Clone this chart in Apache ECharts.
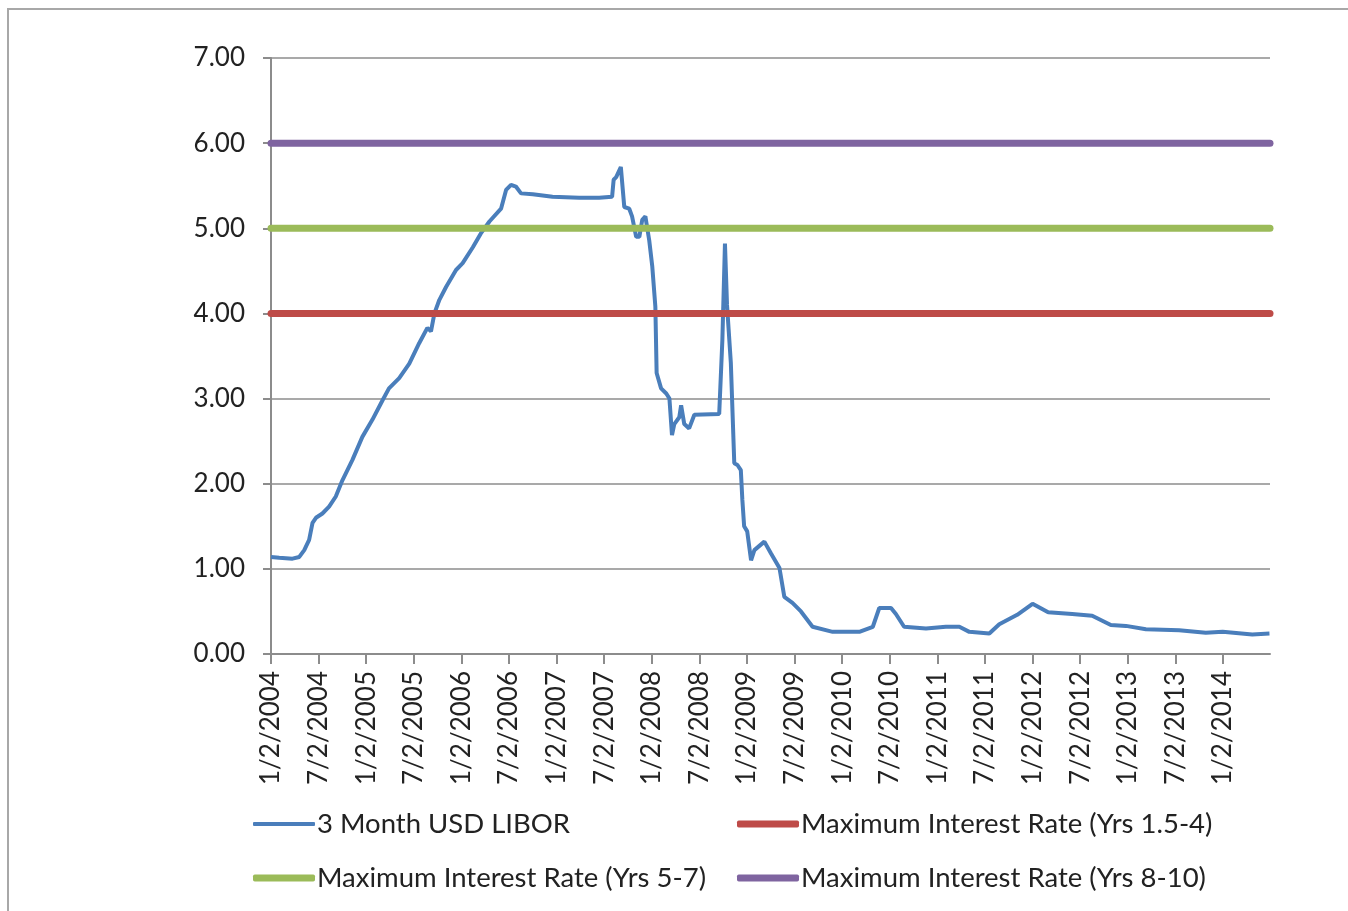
<!DOCTYPE html>
<html>
<head>
<meta charset="utf-8">
<title>3 Month USD LIBOR</title>
<script src="https://cdn.jsdelivr.net/npm/echarts@6/dist/echarts.min.js"></script>
<style>
    html, body { margin: 0; padding: 0; background: #fff; }
    #frame { position: absolute; left: 7px; top: 8px; width: 1400px; height: 960px;
             border-left: 2px solid #a8a8a8; border-top: 2px solid #a8a8a8; }
    #graph { position: absolute; left: 0; top: 0; width: 1348px; height: 911px; }
</style>
</head>
<body>
<div id="frame"></div>
<div id="graph"></div>
<script>
// 3 month USD LIBOR
var liborDates = [
    '2004-01-02','2004-02-03','2004-03-24','2004-04-19','2004-05-08','2004-05-27','2004-06-09','2004-06-22',
    '2004-07-17','2004-08-12','2004-09-07','2004-10-02','2004-11-10','2004-12-18','2005-01-26','2005-03-04',
    '2005-03-29','2005-05-07','2005-06-15','2005-07-23','2005-08-24','2005-09-07','2005-09-20','2005-10-09',
    '2005-11-04','2005-12-12','2006-01-07','2006-02-15','2006-03-16','2006-04-18','2006-06-02','2006-06-21',
    '2006-07-10','2006-07-29','2006-08-18','2006-10-02','2006-12-17','2007-03-28','2007-06-13','2007-08-02',
    '2007-08-08','2007-08-18','2007-09-05','2007-09-18','2007-10-07','2007-10-18','2007-11-03','2007-11-15',
    '2007-11-26','2007-12-08','2007-12-23','2008-01-04','2008-01-16','2008-01-21','2008-02-07','2008-02-26',
    '2008-03-09','2008-03-19','2008-03-28','2008-04-16','2008-04-23','2008-05-05','2008-05-24','2008-06-13',
    '2008-09-17','2008-09-29','2008-10-09','2008-10-17','2008-11-01','2008-11-14','2008-11-26','2008-12-09',
    '2008-12-15','2008-12-22','2009-01-03','2009-01-18','2009-01-31','2009-03-08','2009-04-03','2009-05-05',
    '2009-05-24','2009-06-24','2009-07-27','2009-09-10','2009-11-26','2010-03-07','2010-04-28','2010-05-23',
    '2010-07-07','2010-07-26','2010-08-27','2010-11-19','2011-02-04','2011-03-26','2011-05-03','2011-07-19',
    '2011-08-27','2011-11-04','2012-01-02','2012-03-01','2012-06-02','2012-08-18','2012-10-29','2012-12-26',
    '2013-03-11','2013-07-17','2013-10-28','2014-01-01','2014-04-23','2014-06-28'
];
var liborRates = [
    1.14,1.13,1.12,1.14,1.22,1.34,1.54,1.60,
    1.65,1.73,1.85,2.04,2.28,2.55,2.75,2.98,
    3.12,3.24,3.41,3.65,3.83,3.79,4.00,4.16,
    4.31,4.51,4.59,4.78,4.94,5.08,5.23,5.45,
    5.51,5.49,5.41,5.40,5.37,5.36,5.36,5.37,
    5.57,5.60,5.72,5.25,5.23,5.14,4.90,4.90,
    5.10,5.14,4.86,4.55,4.08,3.30,3.12,3.06,
    3.00,2.57,2.70,2.78,2.92,2.70,2.65,2.81,
    2.82,3.69,4.82,4.10,3.42,2.24,2.22,2.16,
    1.81,1.50,1.44,1.10,1.22,1.32,1.18,1.01,
    0.67,0.60,0.50,0.32,0.26,0.26,0.32,0.54,
    0.54,0.47,0.32,0.30,0.32,0.32,0.26,0.24,
    0.35,0.46,0.59,0.49,0.47,0.45,0.34,0.33,
    0.29,0.28,0.25,0.26,0.23,0.24
];

// flat caps
var capNames = ['Maximum Interest Rate (Yrs 1.5-4)', 'Maximum Interest Rate (Yrs 5-7)', 'Maximum Interest Rate (Yrs 8-10)'];
var capRates = [4, 5, 6];
var capColors = ['#be4b48', '#9bbb59', '#7f64a0'];

var startDate = '2004-01-02';
var endDate = '2014-06-30';

// months since 1/2/2004, so ticks every 6 months land on 1/2 and 7/2
function toMonths(s) {
    var p = s.split('-');
    var y = +p[0], m = +p[1], d = +p[2];
    var days = new Date(y, m, 0).getDate();
    return (y - 2004) * 12 + (m - 1) + (d - 2) / days;
}

var xMax = toMonths(endDate);
var font = 'Lato, "Open Sans", sans-serif';
var textColor = '#222';

var series = [{
    name: '3 Month USD LIBOR',
    type: 'line',
    showSymbol: false,
    symbol: 'none',
    color: '#4a7ebb',
    lineStyle: { width: 4, color: '#4a7ebb' },
    data: liborDates.map(function (d, i) { return [toMonths(d), liborRates[i]]; }),
    z: 2
}];
for (var i = 0; i < capNames.length; i++) {
    series.push({
        name: capNames[i],
        type: 'line',
        showSymbol: false,
        symbol: 'none',
        color: capColors[i],
        lineStyle: { width: 7, color: capColors[i], cap: 'round' },
        data: [[toMonths(startDate), capRates[i]], [xMax, capRates[i]]],
        z: 3
    });
}

// one legend per slot so the two columns line up like the original
function legendAt(name, left, top, thick) {
    return {
        data: [name],
        left: left,
        top: top,
        padding: 0,
        icon: 'roundRect',
        itemWidth: 62,
        itemHeight: thick,
        itemGap: 0,
        selectedMode: false,
        textStyle: { fontFamily: font, fontSize: 27.5, color: textColor, lineHeight: 30, padding: [0, 0, 0, -3] }
    };
}

var chart = echarts.init(document.getElementById('graph'));
var option = {
    animation: false,
    textStyle: { fontFamily: font },
    grid: { left: 271, right: 78, top: 58, bottom: 257, containLabel: false },
    legend: [
        legendAt('3 Month USD LIBOR', 253, 809, 4),
        legendAt(capNames[0], 737, 809, 7),
        legendAt(capNames[1], 253, 863, 7),
        legendAt(capNames[2], 737, 863, 7)
    ],
    xAxis: {
        type: 'value',
        min: 0,
        max: xMax,
        interval: 6,
        axisLine: { show: true, lineStyle: { color: '#8c8c8c', width: 2 } },
        axisTick: { show: true, length: 10, lineStyle: { color: '#8c8c8c', width: 2 } },
        splitLine: { show: false },
        axisLabel: {
            rotate: 90,
            margin: 17,
            fontFamily: font,
            fontSize: 26,
            color: textColor,
            showMaxLabel: false,
            formatter: function (v) {
                var m = Math.round(v);
                if (Math.abs(v - m) > 1e-6 || m % 6 !== 0) return '';
                var month = (m % 12 === 0) ? 1 : 7;
                return month + '/2/' + (2004 + Math.floor(m / 12));
            }
        }
    },
    yAxis: {
        type: 'value',
        min: 0,
        max: 7,
        interval: 1,
        axisLine: { show: true, lineStyle: { color: '#8c8c8c', width: 2 } },
        axisTick: { show: true, length: 8, lineStyle: { color: '#8c8c8c', width: 2 } },
        splitLine: { show: true, lineStyle: { color: '#8c8c8c', width: 1.5 } },
        axisLabel: {
            margin: 26,
            fontFamily: font,
            fontSize: 26,
            color: textColor,
            formatter: function (v) { return v.toFixed(2); }
        }
    },
    series: series
};
chart.setOption(option);
</script>
</body>
</html>
